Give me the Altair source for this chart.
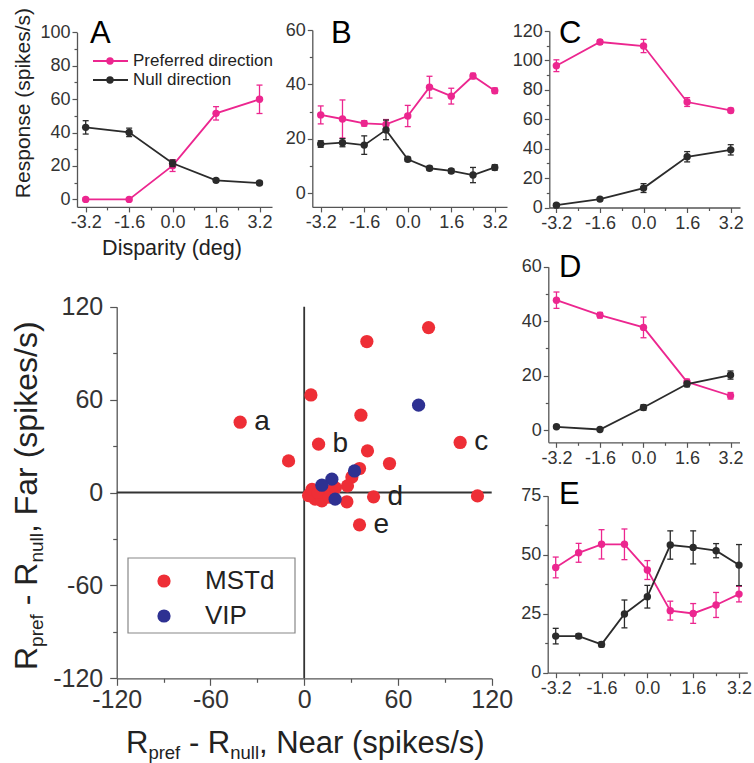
import altair as alt
import pandas as pd

W, H = 754, 763
FONT = "Liberation Sans"
PINK = "#EC268F"
DARK = "#2B2B2B"
RED = "#EE2E36"
BLUE = "#2E3192"
AXIS = "#555555"
TXT = "#333333"

# ---------------- data ----------------
disp5 = [-3.2, -1.6, 0.0, 1.6, 3.2]
disp9 = [-3.2, -2.4, -1.6, -0.8, 0.0, 0.8, 1.6, 2.4, 3.2]

a_pref = [0.0, 0.0, 20.2, 51.5, 59.9]
a_pref_err = [0.8, 0.8, 3.5, 4.0, 8.5]
a_null = [43.1, 40.1, 21.6, 11.4, 9.8]
a_null_err = [4.0, 2.5, 2.0, 1.0, 1.0]

b_pref = [28.8, 27.3, 25.7, 25.3, 28.4, 39.0, 35.7, 43.1, 37.7]
b_pref_err = [3.3, 7.0, 1.0, 1.8, 3.9, 4.0, 2.9, 1.0, 1.0]
b_null = [18.1, 18.6, 17.7, 23.3, 12.5, 9.2, 8.2, 6.7, 9.5]
b_null_err = [1.2, 1.5, 3.4, 3.6, 0.8, 0.8, 0.8, 2.8, 1.0]

c_pref = [96.4, 112.5, 109.8, 71.7, 66.0]
c_pref_err = [4.0, 1.5, 4.5, 3.0, 1.5]
c_null = [1.6, 5.7, 13.2, 34.5, 39.2]
c_null_err = [1.0, 1.0, 3.0, 3.5, 3.5]

d_pref = [47.7, 42.2, 37.7, 17.7, 12.6]
d_pref_err = [3.0, 1.0, 3.8, 1.0, 1.2]
d_null = [1.2, 0.2, 8.3, 16.9, 20.2]
d_null_err = [0.5, 0.5, 1.0, 1.0, 1.5]

e_pref = [44.6, 50.8, 54.4, 54.4, 43.5, 26.3, 25.1, 28.7, 33.3]
e_pref_err = [4.4, 4.0, 6.2, 6.5, 4.0, 4.0, 4.2, 5.3, 3.3]
e_null = [15.5, 15.5, 12.0, 24.9, 32.2, 54.1, 53.1, 51.7, 45.6]
e_null_err = [3.3, 1.0, 1.0, 5.9, 4.8, 6.0, 7.0, 3.0, 8.7]

mstd_near = [-41.0, -10.0, 79.6, 40.1, 4.3, 36.3, 9.2, 99.8, 40.5, 54.6, 35.4, 30.5,
             27.7, 110.9, 3.8, 7.0, 11.3, 2.8, 14.5, 27.3, 44.4, 35.4, 5.0, 9.0, 16.0, 20.0]
mstd_far = [45.4, 20.4, 106.5, 97.5, 63.0, 49.9, 31.2, 32.3, 26.9, 18.7, 15.5, 10.0,
            4.3, -2.2, -1.0, -4.3, -5.4, -2.0, 1.0, -6.0, -2.8, -20.9, 2.0, 0.0, -3.0, 3.0]
vip_near = [73.2, 32.2, 17.7, 11.3, 19.8]
vip_far = [56.4, 13.9, 8.6, 4.7, -4.3]
label_text = ["a", "b", "c", "d", "e"]
label_index = [0, 6, 7, 20, 21]

# ---------------- helpers ----------------
AW = {' ': 278, '-': 333, ',': 278, '(': 333, ')': 333, '/': 278, 'R': 722, 'N': 722,
      'F': 611, 'e': 556, 'a': 556, 'r': 333, 's': 500, 'p': 556, 'i': 222, 'k': 500,
      'f': 278, 'n': 556, 'u': 556, 'l': 222}


def tw(s, fs):
    return sum(AW[c] for c in s) * fs / 1000.0


def sc(dom, rng):
    return alt.Scale(domain=dom, range=rng, nice=False, zero=False)


def axis(orient, offset, values, size, fs, minor=False, fmt=None, pad=2):
    kw = dict(orient=orient, offset=offset, values=values, tickSize=size, tickColor=AXIS,
              tickWidth=1.2, domain=not minor, domainColor=AXIS, domainWidth=1.3, grid=False,
              title=None, labels=not minor, labelFlush=False, labelOverlap=False,
              labelFont=FONT, labelFontSize=fs, labelColor=TXT, labelPadding=pad,
              labelExpr="replace(datum.label, '\u2212', '-')")
    if fmt:
        kw["format"] = fmt
    return alt.Axis(**kw)


one = pd.DataFrame({"k": [0]})


def text(s, x, y, fs, align="left", baseline="alphabetic", angle=0, color="#222222"):
    kw = dict(text=s, font=FONT, fontSize=fs, align=align, baseline=baseline, color=color)
    if angle:
        kw["angle"] = angle
    return alt.Chart(one).mark_text(**kw).encode(x=alt.value(x), y=alt.value(y))


def panel(xs, pref, pref_err, null, null_err, xdom, xrng, ydom, yrng, ymaj, ymin, xmaj, xmin):
    xsc = sc(xdom, xrng)
    ysc = sc(ydom, yrng)
    layers = []
    for vals, errs, color in ((pref, pref_err, PINK), (null, null_err, DARK)):
        df = pd.DataFrame({"d": xs, "r": vals,
                           "lo": [v - e for v, e in zip(vals, errs)],
                           "hi": [v + e for v, e in zip(vals, errs)]})
        base = alt.Chart(df)
        X = alt.X("d:Q", scale=xsc, axis=None)
        layers.append(base.mark_line(color=color, strokeWidth=1.8).encode(
            x=X, y=alt.Y("r:Q", scale=ysc, axis=None)))
        layers.append(base.mark_rule(color=color, strokeWidth=1.3).encode(
            x=X, y=alt.Y("lo:Q", scale=ysc, axis=None), y2="hi:Q"))
        for f in ("lo", "hi"):
            layers.append(base.mark_tick(color=color, orient="horizontal", size=6,
                                         thickness=1.3, opacity=1).encode(
                x=X, y=alt.Y(f"{f}:Q", scale=ysc, axis=None)))
        layers.append(base.mark_circle(color=color, size=55, opacity=1).encode(
            x=X, y=alt.Y("r:Q", scale=ysc, axis=None)))
    adf = pd.DataFrame({"d": xdom, "r": ydom})
    ab = alt.Chart(adf).mark_point(opacity=0)
    layers.append(ab.encode(
        x=alt.X("d:Q", scale=xsc, axis=axis("bottom", yrng[0] - H, xmaj, 5, 18, fmt=".1f")),
        y=alt.Y("r:Q", scale=ysc, axis=axis("left", -xrng[0], ymaj, 5, 18, fmt="d"))))
    layers.append(ab.encode(
        x=alt.X("d:Q", scale=xsc, axis=axis("bottom", yrng[0] - H, xmin, 3, 18, minor=True)),
        y=alt.Y("r:Q", scale=ysc, axis=axis("left", -xrng[0], ymin, 3, 18, minor=True))))
    return layers


layers = []
xmaj = [-3.2, -1.6, 0.0, 1.6, 3.2]
xmin = [-2.4, -0.8, 0.8, 2.4]

layers += panel(disp5, a_pref, a_pref_err, a_null, a_null_err,
                [-3.52, 3.66], [77, 272], [-4.5, 100], [206.9, 32.3],
                [0, 20, 40, 60, 80, 100], [10, 30, 50, 70, 90], xmaj, xmin)
layers += panel(disp9, b_pref, b_pref_err, b_null, b_null_err,
                [-3.51, 3.65], [312.3, 507], [-5, 60], [206.9, 30],
                [0, 20, 40, 60], [10, 30, 50], xmaj, xmin)
layers += panel(disp5, c_pref, c_pref_err, c_null, c_null_err,
                [-3.46, 3.54], [549.3, 740], [0, 120], [207.5, 31],
                [0, 20, 40, 60, 80, 100, 120], [10, 30, 50, 70, 90, 110], xmaj, xmin)
layers += panel(disp5, d_pref, d_pref_err, d_null, d_null_err,
                [-3.5, 3.53], [548.3, 739.5], [-4.5, 60], [442.3, 266.7],
                [0, 20, 40, 60], [10, 30, 50], xmaj, xmin)
layers += panel(disp9, e_pref, e_pref_err, e_null, e_null_err,
                [-3.48, 3.49], [547.7, 747.3], [0, 75], [672.7, 495.7],
                [0, 25, 50, 75], [12.5, 37.5, 62.5], xmaj, xmin)

# ---------------- scatter ----------------
SX = [116.7, 491.7]
SY = [678.3, 306.7]
sdom = [-120, 120]
sx = sc(sdom, SX)
sy = sc(sdom, SY)

cross_v = pd.DataFrame({"near": [0], "far": [sdom[0]], "far2": [sdom[1]]})
cross_h = pd.DataFrame({"far": [0], "near": [sdom[0]], "near2": [sdom[1]]})
layers.append(alt.Chart(cross_v).mark_rule(color="#333333", strokeWidth=1.8).encode(
    x=alt.X("near:Q", scale=sx, axis=None), y=alt.Y("far:Q", scale=sy, axis=None), y2="far2:Q"))
layers.append(alt.Chart(cross_h).mark_rule(color="#333333", strokeWidth=1.8).encode(
    y=alt.Y("far:Q", scale=sy, axis=None), x=alt.X("near:Q", scale=sx, axis=None), x2="near2:Q"))

mstd = pd.DataFrame({"near": mstd_near, "far": mstd_far})
vip = pd.DataFrame({"near": vip_near, "far": vip_far})
layers.append(alt.Chart(mstd).mark_circle(color=RED, size=175, opacity=1).encode(
    x=alt.X("near:Q", scale=sx, axis=None), y=alt.Y("far:Q", scale=sy, axis=None)))
layers.append(alt.Chart(vip).mark_circle(color=BLUE, size=175, opacity=1).encode(
    x=alt.X("near:Q", scale=sx, axis=None), y=alt.Y("far:Q", scale=sy, axis=None)))
lab = pd.DataFrame({"t": label_text,
                    "near": [mstd_near[i] for i in label_index],
                    "far": [mstd_far[i] for i in label_index]})
layers.append(alt.Chart(lab).mark_text(font=FONT, fontSize=28, align="left", baseline="middle",
                                       dx=14, color="#222222").encode(
    x=alt.X("near:Q", scale=sx, axis=None), y=alt.Y("far:Q", scale=sy, axis=None), text="t:N"))

sab = alt.Chart(pd.DataFrame({"near": sdom, "far": sdom})).mark_point(opacity=0)
layers.append(sab.encode(
    x=alt.X("near:Q", scale=sx, axis=axis("bottom", SY[0] - H, [-120, -60, 0, 60, 120], 7, 25, fmt="d", pad=2)),
    y=alt.Y("far:Q", scale=sy, axis=axis("left", -SX[0], [-120, -60, 0, 60, 120], 7, 25, fmt="d", pad=7))))
layers.append(sab.encode(
    x=alt.X("near:Q", scale=sx, axis=axis("bottom", SY[0] - H, [-90, -30, 30, 90], 4, 25, minor=True)),
    y=alt.Y("far:Q", scale=sy, axis=axis("left", -SX[0], [-90, -30, 30, 90], 4, 25, minor=True))))

# scatter legend
layers.append(alt.Chart(one).mark_rect(fill="white", stroke="#888888", strokeWidth=1.2).encode(
    x=alt.value(128), x2=alt.value(295), y=alt.value(558), y2=alt.value(633)))
layers.append(alt.Chart(one).mark_circle(color=RED, size=175, opacity=1).encode(
    x=alt.value(164), y=alt.value(581)))
layers.append(alt.Chart(one).mark_circle(color=BLUE, size=175, opacity=1).encode(
    x=alt.value(164), y=alt.value(616)))
layers.append(text("MSTd", 205, 581, 26, baseline="middle"))
layers.append(text("VIP", 205, 616, 26, baseline="middle"))

# panel A legend
for yy, col, lbl in ((61, PINK, "Preferred direction"), (80, DARK, "Null direction")):
    layers.append(alt.Chart(one).mark_rule(color=col, strokeWidth=1.8).encode(
        x=alt.value(93), x2=alt.value(128), y=alt.value(yy)))
    layers.append(alt.Chart(one).mark_circle(color=col, size=55, opacity=1).encode(
        x=alt.value(110), y=alt.value(yy)))
    layers.append(text(lbl, 133, yy, 17, baseline="middle"))

# panel letters
for s, px, py in (("A", 90, 43), ("B", 331, 43), ("C", 559, 43), ("D", 559, 277), ("E", 559, 504)):
    layers.append(text(s, px, py, 31, color="#000000"))

# axis titles of panel A
layers.append(text("Response (spikes/s)", 30, 103, 21, align="center", angle=270))
layers.append(text("Disparity (deg)", 172, 255, 21.5, align="center"))


# scatter axis titles with subscripts (leading spaces are advanced, not rendered)
def title_pieces(pieces, start, main_base, sub_base, mf, sf, vertical):
    out = []
    pos = start
    for s, is_sub in pieces:
        fs = sf if is_sub else mf
        stripped = s.lstrip(" ")
        lead = tw(s[:len(s) - len(stripped)], fs)
        p = pos + lead if not vertical else pos - lead
        base = sub_base if is_sub else main_base
        if vertical:
            out.append(text(stripped, base, p, fs, angle=270))
            pos -= tw(s, fs)
        else:
            out.append(text(stripped, p, base, fs))
            pos += tw(s, fs)
    return out


layers += title_pieces([("R", False), ("pref", True), (" - R", False), ("null", True),
                        (", Near (spikes/s)", False)], 126, 753, 758.5, 31, 18.5, False)
layers += title_pieces([("R", False), ("pref", True), (" - R", False), ("null", True),
                        (", Far (spikes/s)", False)], 670, 37, 43, 32, 19, True)

chart = alt.layer(*layers).resolve_scale(x="independent", y="independent").resolve_axis(
    x="independent", y="independent").properties(
    width=W, height=H, padding=0, autosize=alt.AutoSizeParams(type="none")
).configure_view(stroke=None)

chart.save("out.html", embed_options={"renderer": "svg", "actions": False})
